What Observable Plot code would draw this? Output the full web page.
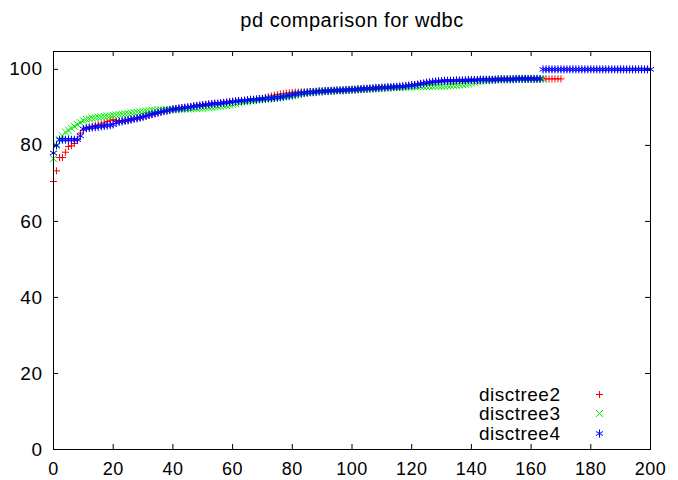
<!DOCTYPE html>
<html><head><meta charset="utf-8">
<script src="https://cdn.jsdelivr.net/npm/d3@7"></script>
<script src="https://cdn.jsdelivr.net/npm/@observablehq/plot@0.6"></script>
<style>
body{margin:0;background:#fff}
svg{font-family:"Liberation Sans",Arial,sans-serif}
</style>
</head><body><div id="chart"></div>
<script>
const titleText = "pd comparison for wdbc";
const xTicks = [0,20,40,60,80,100,120,140,160,180,200];
const yTicks = [0,20,40,60,80,100];
const seriesNames = ["disctree2","disctree3","disctree4"];
const seriesColors = ["#ff0000","#00ee00","#0000ff"];
const seriesSymbols = ["plus","times","asterisk"];

// values at x = 0, 1, 2, ...
const disctree2 = [
70.5,73.3,76.8,76.8,78.2,79.7,79.9,80.5,81.5,83.2,84.0,
84.6,84.8,85.0,85.2,85.4,85.6,85.9,86.3,86.6,86.8,
86.5,86.4,86.4,86.5,86.6,86.8,87.0,87.2,87.4,87.6,
87.8,88.0,88.2,88.4,88.6,88.8,89.0,89.2,89.4,89.6,
89.7,89.8,89.9,90.0,90.1,90.2,90.3,90.4,90.5,90.6,
90.7,90.8,90.9,91.0,91.0,91.1,91.2,91.3,91.4,91.5,
91.6,91.7,91.7,91.8,91.9,92.0,92.1,92.2,92.3,92.4,
92.6,92.8,93.0,93.2,93.4,93.5,93.6,93.7,93.8,93.9,
94.0,94.0,94.1,94.1,94.1,94.2,94.2,94.2,94.3,94.3,
94.3,94.4,94.4,94.4,94.5,94.5,94.5,94.6,94.6,94.7,
94.7,94.8,94.8,94.9,94.9,95.0,95.0,95.1,95.1,95.2,
95.2,95.3,95.3,95.4,95.4,95.5,95.6,95.7,95.8,95.9,
96.0,96.1,96.2,96.3,96.4,96.5,96.6,96.7,96.8,96.9,
97.0,97.0,97.0,97.0,97.1,97.1,97.1,97.1,97.2,97.2,
97.2,97.2,97.3,97.3,97.3,97.3,97.3,97.3,97.4,97.4,
97.4,97.4,97.4,97.4,97.5,97.5,97.5,97.5,97.5,97.5,
97.5,97.5,97.5,97.5,97.5,97.5,97.5,97.5,97.5,97.5
];
const disctree3 = [
76.5,80.0,81.5,82.5,83.5,84.0,84.5,85.0,85.5,86.0,86.5,
86.8,87.0,87.2,87.3,87.4,87.5,87.6,87.7,87.8,87.9,
88.0,88.1,88.2,88.3,88.4,88.5,88.6,88.7,88.8,88.9,
89.0,89.1,89.2,89.2,89.3,89.3,89.3,89.4,89.4,89.4,
89.5,89.5,89.5,89.6,89.6,89.6,89.7,89.7,89.8,89.8,
89.9,89.9,90.0,90.1,90.2,90.3,90.4,90.5,90.6,90.8,
91.0,91.2,91.4,91.5,91.6,91.7,91.8,91.9,92.0,92.1,
92.2,92.3,92.3,92.4,92.5,92.6,92.7,92.8,92.9,93.0,
93.2,93.4,93.6,93.7,93.8,93.9,94.0,94.1,94.1,94.2,
94.2,94.3,94.3,94.4,94.4,94.4,94.5,94.5,94.6,94.6,
94.6,94.7,94.7,94.8,94.8,94.9,94.9,95.0,95.0,95.1,
95.1,95.1,95.2,95.2,95.2,95.3,95.3,95.3,95.4,95.4,
95.4,95.4,95.5,95.5,95.5,95.5,95.5,95.6,95.6,95.6,
95.6,95.7,95.7,95.8,95.8,95.9,96.0,96.1,96.2,96.4,
96.6,96.8,96.9,97.0,97.1,97.2,97.2,97.3,97.3,97.3,
97.4,97.4,97.4,97.4,97.5,97.5,97.5,97.5,97.5,97.5,
97.5,97.5,97.5,97.5
];
const disctree4 = [
78.0,80.0,81.5,81.5,81.5,81.5,81.5,81.5,81.5,82.5,84.3,
84.5,84.6,84.7,84.8,84.9,85.0,85.1,85.2,85.3,85.5,
86.0,86.2,86.3,86.5,86.6,86.8,87.0,87.1,87.3,87.5,
87.7,88.0,88.2,88.4,88.6,88.8,89.0,89.1,89.3,89.5,
89.6,89.7,89.8,89.9,90.0,90.1,90.3,90.4,90.5,90.6,
90.7,90.8,90.9,91.0,91.0,91.1,91.2,91.3,91.4,91.5,
91.6,91.7,91.7,91.8,91.9,92.0,92.0,92.1,92.2,92.2,
92.3,92.4,92.4,92.5,92.6,92.7,92.8,93.0,93.1,93.3,
93.4,93.6,93.7,93.8,93.9,94.0,94.0,94.1,94.2,94.2,
94.3,94.3,94.4,94.4,94.5,94.5,94.5,94.6,94.6,94.7,
94.7,94.8,94.8,94.9,94.9,95.0,95.0,95.1,95.1,95.2,
95.2,95.3,95.3,95.4,95.4,95.5,95.5,95.6,95.7,95.8,
95.9,96.0,96.2,96.3,96.5,96.6,96.7,96.8,96.9,96.9,
97.0,97.0,97.0,97.0,97.1,97.1,97.1,97.1,97.2,97.2,
97.2,97.2,97.3,97.3,97.3,97.3,97.3,97.3,97.4,97.4,
97.4,97.4,97.4,97.4,97.5,97.5,97.5,97.5,97.5,97.5,
97.5,97.5,97.5,
100,100,100,100,100,100,100,100,100,100,
100,100,100,100,100,100,100,100,100,100,
100,100,100,100,100,100,100,100,100,100,
100,100,100,100,100,100,100
];
const seriesValues = [disctree2, disctree3, disctree4];

const W = 678, H = 480, mL = 53, mR = 28, mT = 51, mB = 31;
const innerW = W - mL - mR, innerH = H - mT - mB;
const FONT = 18;
const markerR = {plus: 2.4, times: 3.3, asterisk: 3.8};
const legendDy = [-55, -36, -16];

const dotMarks = seriesNames.map((name, s) =>
  Plot.dot(seriesValues[s].map((v, i) => ({x: i, y: v})), {
    x: "x", y: "y", symbol: seriesSymbols[s], stroke: seriesColors[s],
    r: markerR[seriesSymbols[s]], strokeWidth: 1
  })
);
const legendMarks = seriesNames.flatMap((name, s) => [
  Plot.text([name], {text: d => d, frameAnchor: "bottom-right", textAnchor: "end",
    lineAnchor: "middle", dx: -90, dy: legendDy[s], fontSize: FONT + 1, fill: "black"}),
  Plot.dot([name], {frameAnchor: "bottom-right", dx: -51, dy: legendDy[s],
    symbol: seriesSymbols[s], stroke: seriesColors[s], r: markerR[seriesSymbols[s]], strokeWidth: 1})
]);

const chart = Plot.plot({
  width: W, height: H,
  marginLeft: mL, marginRight: mR, marginTop: mT, marginBottom: mB,
  style: {fontFamily: '"Liberation Sans", Arial, sans-serif', fontSize: FONT + "px", letterSpacing: "0.5px"},
  x: {domain: [0, 200]},
  y: {domain: [0, 104.7]},
  marks: [
    Plot.ruleX(xTicks, {x: d => d, insetTop: innerH - 5, stroke: "black"}),
    Plot.ruleX(xTicks, {x: d => d, insetBottom: innerH - 5, stroke: "black"}),
    Plot.ruleY(yTicks, {y: d => d, insetRight: innerW - 5, stroke: "black"}),
    Plot.ruleY(yTicks, {y: d => d, insetLeft: innerW - 5, stroke: "black"}),
    Plot.axisX({ticks: xTicks, tickSize: 0, tickPadding: 13, label: null, fontSize: FONT, color: "black"}),
    Plot.axisY({ticks: yTicks, tickSize: 0, tickPadding: 11, label: null, fontSize: FONT + 1, color: "black"}),
    ...dotMarks,
    Plot.frame({stroke: "black", strokeWidth: 1}),
    ...legendMarks,
    Plot.text([titleText], {text: d => d, frameAnchor: "top", lineAnchor: "bottom", dy: -25, fontSize: FONT + 2, fill: "black"})
  ]
});
document.getElementById("chart").appendChild(chart);
</script>
</body></html>
